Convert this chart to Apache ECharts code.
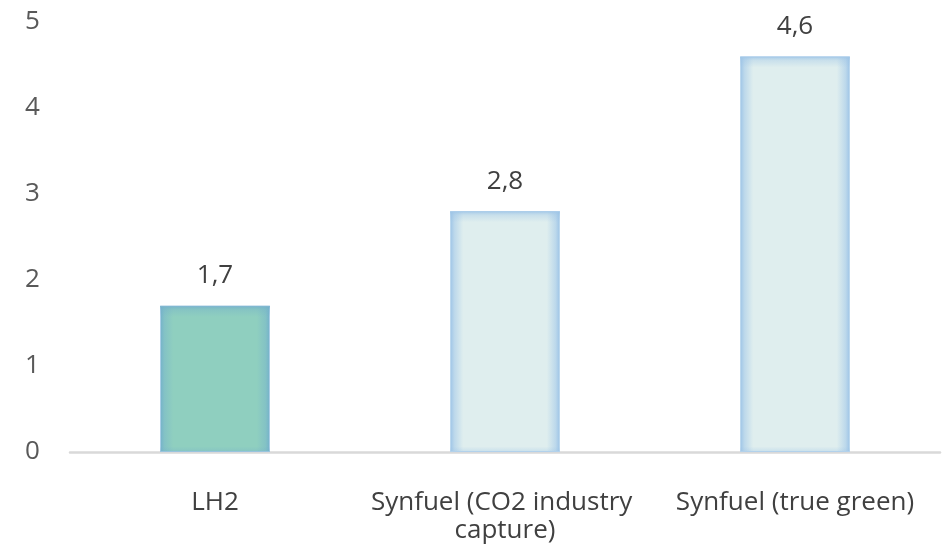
<!DOCTYPE html>
<html>
<head>
<meta charset="utf-8">
<script src="https://cdn.jsdelivr.net/npm/echarts@6/dist/echarts.min.js"></script>
<style>
  html, body { margin: 0; padding: 0; background: #fff; }
  #chart { width: 943px; height: 548px; }
</style>
</head>
<body>
<div id="chart"></div>
<script>
// Fuel pathways and their values
const categories = ['LH2', 'Synfuel (CO2 industry capture)', 'Synfuel (true green)'];
const values = [1.7, 2.8, 4.6];
const yTicks = [0, 1, 2, 3, 4, 5];

const FONT = 'Open Sans';
const GRID = { left: 70, right: 3, top: 22, bottom: 96 };
const CHART_H = 548;
const yMax = yTicks[yTicks.length - 1];
const pxPerUnit = (CHART_H - GRID.top - GRID.bottom) / yMax;

// glow along both sides of a bar, flat colour in the middle
function sideGlow(edge, mid, inner) {
  return {
    type: 'linear', x: 0, y: 0, x2: 1, y2: 0,
    colorStops: [
      { offset: 0, color: edge },
      { offset: 0.04, color: mid },
      { offset: 0.12, color: inner },
      { offset: 0.88, color: inner },
      { offset: 0.96, color: mid },
      { offset: 1, color: edge }
    ]
  };
}

// glow along the top (and faintly the bottom) of a bar, transparent elsewhere
function capGlow(rgb, v) {
  const f = Math.min(0.3, 11 / (v * pxPerUnit));
  return {
    type: 'linear', x: 0, y: 0, x2: 0, y2: 1,
    colorStops: [
      { offset: 0, color: 'rgba(' + rgb + ',0.85)' },
      { offset: f * 0.35, color: 'rgba(' + rgb + ',0.35)' },
      { offset: f, color: 'rgba(' + rgb + ',0)' },
      { offset: 1 - f * 0.5, color: 'rgba(' + rgb + ',0)' },
      { offset: 1, color: 'rgba(' + rgb + ',0.35)' }
    ]
  };
}

const palette = [
  { edge: '#74b0cb', mid: '#83c2c5', inner: '#8fcfbf', glow: '116,176,203', border: '#a9cde6' },
  { edge: '#9cc3e6', mid: '#bcd8eb', inner: '#dfeeee', glow: '156,195,230', border: '#bcd8ee' },
  { edge: '#9cc3e6', mid: '#bcd8eb', inner: '#dfeeee', glow: '156,195,230', border: '#bcd8ee' }
];

const chart = echarts.init(document.getElementById('chart'), null, { renderer: 'canvas' });
chart.setOption({
  animation: false,
  grid: GRID,
  xAxis: {
    type: 'category',
    data: categories,
    axisLine: { lineStyle: { color: '#d9d9d9', width: 2.5 } },
    axisTick: { show: false },
    axisLabel: {
      interval: 0,
      color: '#404040', fontFamily: FONT, fontSize: 26, margin: 37,
      width: 289, overflow: 'break', lineHeight: 28
    }
  },
  yAxis: {
    type: 'value',
    min: yTicks[0], max: yMax, interval: 1,
    splitLine: { show: false },
    axisLine: { show: false },
    axisTick: { show: false },
    axisLabel: { color: '#595959', fontFamily: FONT, fontSize: 26, margin: 45, align: 'left' }
  },
  series: [
    {
      type: 'bar',
      barWidth: 110,
      z: 2,
      data: values.map((v, i) => ({
        value: v,
        itemStyle: {
          color: sideGlow(palette[i].edge, palette[i].mid, palette[i].inner),
          borderColor: palette[i].border, borderWidth: 1
        }
      })),
      label: {
        show: true, position: 'top', distance: 17,
        color: '#404040', fontFamily: FONT, fontSize: 26,
        formatter: p => p.value.toFixed(1).replace('.', ',')
      }
    },
    {
      type: 'bar',
      barWidth: 110,
      barGap: '-100%',
      z: 3,
      silent: true,
      data: values.map((v, i) => ({
        value: v,
        itemStyle: { color: capGlow(palette[i].glow, v) }
      }))
    }
  ]
});
</script>
</body>
</html>
